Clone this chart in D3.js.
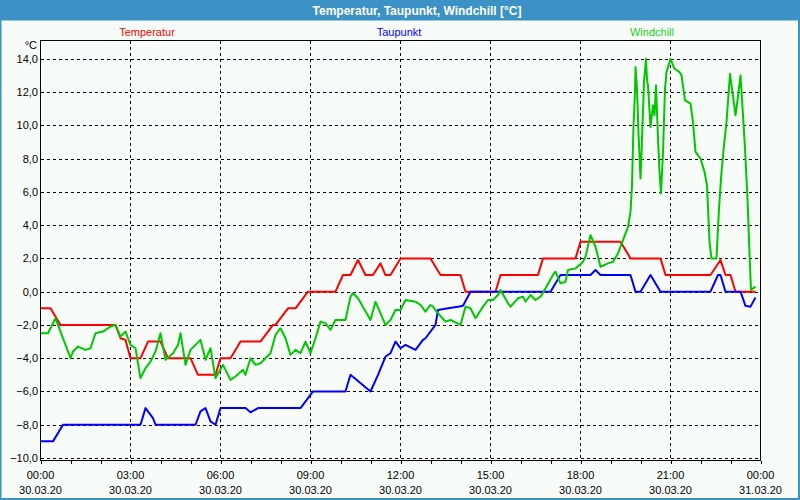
<!DOCTYPE html>
<html>
<head>
<meta charset="utf-8">
<script src="https://cdn.jsdelivr.net/npm/d3@7"></script>
<style>
  body { margin: 0; background: #f8fcf8; }
  svg { display: block; font-family: "Liberation Sans", Arial, sans-serif; }
</style>
</head>
<body>
<svg id="chart"></svg>
<script>
// series: [time, value]
const temperatur = [
  ["00:00", -1], ["00:20", -1], ["00:40", -2], ["02:30", -2], ["02:40", -2.8], ["02:50", -2.9],
  ["03:00", -4], ["03:20", -4], ["03:35", -3], ["04:00", -3], ["04:15", -4], ["05:00", -4],
  ["05:15", -5], ["05:50", -5], ["06:00", -4], ["06:20", -4], ["06:40", -3], ["07:20", -3],
  ["07:45", -2], ["07:50", -2], ["08:15", -1], ["08:30", -1], ["08:55", 0], ["09:50", 0],
  ["10:05", 1], ["10:20", 1], ["10:35", 1.9], ["10:50", 1], ["11:05", 1], ["11:20", 1.7],
  ["11:30", 1], ["11:40", 1], ["12:00", 2], ["13:00", 2], ["13:20", 1], ["14:00", 1],
  ["14:10", 0], ["15:10", 0], ["15:20", 1], ["16:35", 1], ["16:45", 2], ["17:50", 2],
  ["18:00", 3], ["19:20", 3], ["19:40", 2], ["20:40", 2], ["20:50", 1], ["22:20", 1],
  ["22:40", 1.9], ["22:50", 1], ["23:00", 1], ["23:10", 0], ["23:50", 0]
];

const taupunkt = [
  ["00:00", -9], ["00:25", -9], ["00:45", -8], ["03:20", -8], ["03:30", -7], ["03:45", -7.6],
  ["03:50", -8], ["05:10", -8], ["05:20", -7.2], ["05:30", -7], ["05:40", -7.8], ["05:50", -8],
  ["06:00", -7], ["06:50", -7], ["07:00", -7.25], ["07:15", -7], ["08:40", -7], ["08:55", -6.4],
  ["09:05", -6], ["10:10", -6], ["10:20", -5], ["11:00", -6], ["11:15", -5], ["11:30", -3.9],
  ["11:40", -3.7], ["11:50", -3], ["12:00", -3.4], ["12:10", -3.2], ["12:30", -3.5], ["12:45", -2.9],
  ["12:50", -2.8], ["13:10", -2], ["13:15", -1.1], ["13:35", -1], ["13:55", -0.9], ["14:05", -0.85],
  ["14:20", 0], ["17:00", 0], ["17:20", 1], ["18:20", 1], ["18:30", 1.3], ["18:40", 1],
  ["19:40", 1], ["19:50", 0], ["20:00", 0], ["20:20", 1], ["20:40", 0], ["22:20", 0],
  ["22:35", 1], ["22:40", 1], ["22:50", 0], ["23:20", 0], ["23:30", -0.85], ["23:40", -0.9],
  ["23:50", -0.35]
];

const windchill = [
  ["00:00", -2.5], ["00:15", -2.5], ["00:30", -1.6], ["01:00", -4.0], ["01:05", -3.6], ["01:15", -3.3],
  ["01:30", -3.5], ["01:40", -3.4], ["01:50", -2.5], ["02:05", -2.4], ["02:20", -2.1], ["02:30", -2.0],
  ["02:40", -2.7], ["02:50", -2.4], ["03:00", -3.2], ["03:10", -3.4], ["03:20", -5.2], ["03:30", -4.6],
  ["03:40", -4.2], ["03:50", -3.6], ["04:00", -2.5], ["04:10", -4.1], ["04:25", -3.7], ["04:35", -3.2],
  ["04:40", -2.5], ["04:50", -4.4], ["05:00", -3.5], ["05:20", -2.9], ["05:30", -4.1], ["05:40", -3.4],
  ["05:50", -5.2], ["06:05", -4.4], ["06:10", -4.7], ["06:20", -5.3], ["06:30", -5.1], ["06:45", -4.7],
  ["06:50", -5.0], ["07:00", -4.0], ["07:10", -4.4], ["07:20", -4.3], ["07:30", -4.0], ["07:40", -3.7],
  ["07:50", -2.6], ["08:00", -2.2], ["08:10", -2.8], ["08:20", -3.8], ["08:30", -3.5], ["08:40", -3.7],
  ["08:50", -3.0], ["09:00", -3.7], ["09:10", -2.8], ["09:20", -1.8], ["09:30", -1.9], ["09:40", -2.3],
  ["09:50", -1.7], ["10:10", -1.7], ["10:20", -0.3], ["10:25", -0.1], ["10:35", -0.4], ["11:00", -1.7],
  ["11:10", -0.6], ["11:20", -1.3], ["11:30", -2.0], ["11:40", -1.7], ["11:50", -1.1], ["12:00", -1.1],
  ["12:10", -0.5], ["12:30", -0.6], ["12:40", -0.8], ["12:50", -1.2], ["13:00", -0.8], ["13:05", -0.9],
  ["13:15", -1.3], ["13:30", -1.8], ["13:40", -1.7], ["14:00", -2.0], ["14:10", -0.9], ["14:20", -1.0],
  ["14:30", -1.6], ["14:45", -0.9], ["14:55", -0.5], ["15:05", -0.5], ["15:15", -0.2], ["15:20", 0.1],
  ["15:35", -0.7], ["15:40", -0.9], ["15:55", -0.4], ["16:05", -0.3], ["16:10", -0.6], ["16:20", -0.2],
  ["16:30", -0.5], ["16:40", -0.3], ["16:50", 0.2], ["17:05", 1.0], ["17:10", 1.2], ["17:20", 0.5],
  ["17:30", 0.6], ["17:35", 1.3], ["17:50", 1.4], ["18:05", 1.8], ["18:10", 2.1], ["18:20", 3.4],
  ["18:30", 2.7], ["18:40", 1.5], ["18:55", 1.7], ["19:05", 1.8], ["19:15", 2.3], ["19:25", 3.1],
  ["19:35", 3.9], ["19:40", 4.8], ["19:43", 6.4], ["19:46", 10.0], ["19:49", 12.0], ["19:50", 13.5],
  ["19:53", 12.2], ["19:56", 9.5], ["20:00", 6.8], ["20:02", 8.3], ["20:07", 12.6], ["20:11", 14.0],
  ["20:13", 12.7], ["20:15", 12.4], ["20:20", 9.9], ["20:25", 11.2], ["20:28", 10.6], ["20:31", 12.4],
  ["20:35", 9.2], ["20:38", 7.2], ["20:41", 5.9], ["20:45", 8.4], ["20:49", 12.2], ["20:52", 13.2],
  ["21:00", 14.0], ["21:08", 13.4], ["21:18", 13.2], ["21:22", 13.0], ["21:29", 11.5], ["21:40", 11.3],
  ["21:45", 10.2], ["21:50", 8.4], ["22:00", 8.0], ["22:08", 7.2], ["22:13", 6.4], ["22:18", 3.0],
  ["22:22", 2.0], ["22:32", 2.0], ["22:37", 5.0], ["22:42", 7.2], ["22:47", 8.8], ["22:52", 10.2],
  ["22:59", 13.1], ["23:04", 12.0], ["23:10", 10.6], ["23:14", 11.5], ["23:20", 13.0], ["23:25", 10.6],
  ["23:29", 8.6], ["23:34", 5.6], ["23:38", 2.3], ["23:41", 0.1], ["23:50", 0.3]
];

const seriesNames = ["Temperatur", "Taupunkt", "Windchill"];
const seriesColors = ["#ff0000", "#0000ff", "#00c800"];
const yTicks = [-10, -8, -6, -4, -2, 0, 2, 4, 6, 8, 10, 12, 14];
const day = "2020-03-30";

const width = 800;
const height = 500;
const plot = { left: 40.5, right: 760.5, top: 40.5, bottom: 460.5 };

const svg = d3.select("#chart").attr("width", width).attr("height", height);

const parseTime = d3.timeParse("%Y-%m-%d %H:%M");
const start = parseTime(day + " 00:00");
const end = d3.timeDay.offset(start, 1);

const x = d3.scaleTime().domain([start, end]).range([plot.left, plot.right]);
const y = d3.scaleLinear().domain([-10.15, 15.1]).range([plot.bottom, plot.top]);

const comma = d3.formatLocale({ decimal: ",", thousands: ".", grouping: [3], currency: ["", "€"] }).format(".1f");

// window frame
svg.append("rect").attr("width", width).attr("height", height).attr("fill", "#f8fcf8");
svg.append("rect").attr("width", width).attr("height", 20.5).attr("fill", "#3c92c4");
svg.append("rect").attr("x", 0).attr("y", 0).attr("width", 1.5).attr("height", height).attr("fill", "#3c92c4");
svg.append("rect").attr("x", 798).attr("y", 0).attr("width", 2).attr("height", height).attr("fill", "#3c92c4");
svg.append("rect").attr("x", 0).attr("y", 498).attr("width", width).attr("height", 2).attr("fill", "#3c92c4");

svg.append("text")
  .attr("x", 417).attr("y", 14.5)
  .attr("text-anchor", "middle")
  .attr("fill", "#ffffff")
  .attr("font-weight", "bold")
  .attr("font-size", "12px")
  .text("Temperatur, Taupunkt, Windchill [°C]");

// legend
const legendX = [147, 399, 652];
seriesNames.forEach((n, i) => {
  svg.append("text")
    .attr("x", legendX[i]).attr("y", 36)
    .attr("text-anchor", "middle")
    .attr("fill", i === 2 ? "#22cc22" : seriesColors[i])
    .attr("font-size", "11px")
    .text(n);
});

svg.append("text")
  .attr("x", 37).attr("y", 49)
  .attr("text-anchor", "end")
  .attr("font-size", "11px")
  .attr("fill", "#000")
  .text("°C");

// grid
const grid = svg.append("g").attr("stroke", "#000").attr("stroke-dasharray", "3,3")
  .attr("shape-rendering", "crispEdges");

grid.selectAll("line.h")
  .data(yTicks)
  .join("line")
  .attr("class", "h")
  .attr("x1", plot.left).attr("x2", plot.right)
  .attr("y1", d => Math.round(y(d)) + 0.5).attr("y2", d => Math.round(y(d)) + 0.5);

const hours3 = d3.timeHour.every(3).range(d3.timeHour.offset(start, 3), end);
grid.selectAll("line.v")
  .data(hours3)
  .join("line")
  .attr("class", "v")
  .attr("x1", d => x(d)).attr("x2", d => x(d))
  .attr("y1", plot.top).attr("y2", plot.bottom);

// y labels
svg.append("g").selectAll("text")
  .data(yTicks)
  .join("text")
  .attr("x", 38)
  .attr("y", d => y(d) + 4)
  .attr("text-anchor", "end")
  .attr("font-size", "11px")
  .attr("fill", "#000")
  .text(d => comma(d));

// x axis: hourly ticks, labels every 3 hours
const xAxis = d3.axisBottom(x)
  .ticks(d3.timeHour.every(1))
  .tickSize(3)
  .tickFormat("");
const xg = svg.append("g").attr("transform", `translate(0,${plot.bottom})`).call(xAxis);
xg.select(".domain").remove();
xg.selectAll("line").attr("stroke", "#000").attr("shape-rendering", "crispEdges");

const labelTimes = d3.timeHour.every(3).range(start, d3.timeMinute.offset(end, 1));
const fmtH = d3.timeFormat("%H:%M");
const fmtD = d3.timeFormat("%d.%m.%y");
const xl = svg.append("g").selectAll("g")
  .data(labelTimes)
  .join("g")
  .attr("transform", d => `translate(${x(d)},0)`);
xl.append("text").attr("y", 479).attr("text-anchor", "middle").attr("font-size", "11px").text(d => fmtH(d));
xl.append("text").attr("y", 494).attr("text-anchor", "middle").attr("font-size", "11px").text(d => fmtD(d));

// series
const line = d3.line()
  .x(d => x(parseTime(day + " " + d[0])))
  .y(d => y(d[1]));

[temperatur, taupunkt, windchill].forEach((s, i) => {
  svg.append("path")
    .datum(s)
    .attr("fill", "none")
    .attr("stroke", seriesColors[i])
    .attr("stroke-width", 2)
    .attr("stroke-linejoin", "round")
    .attr("d", line);
});

// frame
svg.append("rect")
  .attr("x", plot.left).attr("y", plot.top)
  .attr("width", plot.right - plot.left).attr("height", plot.bottom - plot.top)
  .attr("fill", "none").attr("stroke", "#000").attr("shape-rendering", "crispEdges");
</script>
</body>
</html>
